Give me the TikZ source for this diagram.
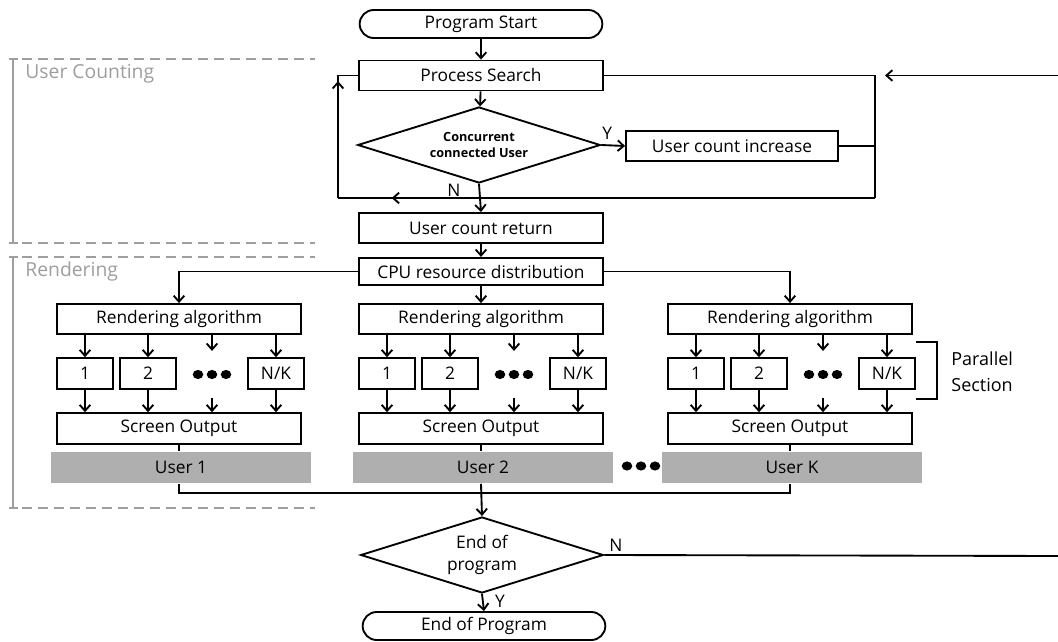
\documentclass[tikz,border=0pt]{standalone}
\usepackage{fontspec}
\setmainfont{Open Sans}
\usetikzlibrary{arrows.meta,shapes.geometric,shapes.misc,decorations.markings}
\definecolor{usergray}{RGB}{175,175,175}
\definecolor{zonegray}{RGB}{158,158,158}

\begin{document}
\begin{tikzpicture}[x=0.75pt,y=-0.75pt,line width=1.4pt,
    font=\fontsize{13pt}{15pt}\selectfont,
    >={Straight Barb[length=4.5pt,width=8pt]},
    box/.style={draw,rectangle,inner sep=0pt,minimum height=22.5pt},
    wide/.style={box,minimum width=183pt},
    num/.style={box,minimum width=42pt,minimum height=23pt},
    term/.style={draw,rounded rectangle,inner sep=0pt,minimum width=182pt,minimum height=21pt},
    decide/.style={draw,diamond,inner sep=0pt,shape aspect=3.2,align=center,
        minimum width=182pt,minimum height=57pt},
    user/.style={fill=usergray,inner sep=0pt,minimum width=195pt,minimum height=23pt},
    zone/.style={draw=zonegray,line width=1.5pt,dash pattern=on 7.5pt off 4.5pt},
    zonebar/.style={draw=zonegray,line width=2.2pt},
    zonelabel/.style={text=zonegray,anchor=west,font=\fontsize{14.5pt}{17pt}\selectfont},
    midarrow/.style={postaction=decorate,
        decoration={markings,mark=at position #1 with {\arrow{>}}}}
]
\useasboundingbox (0,0) rectangle (1058,642);

% zones on the left
\draw[zone] (22,59) -- (315,59) (22,243) -- (315,243);
\draw[zone] (22,257) -- (315,257) (22,508) -- (315,508);
\draw[zonebar] (9,59) -- (18,59) (13,59) -- (13,243) (9,243) -- (18,243);
\draw[zonebar] (9,257) -- (18,257) (13,257) -- (13,508) (9,508) -- (18,508);
\node[zonelabel] (zcount) at (20,74) {User Counting};
\node[zonelabel] (zrender) at (20,271) {Rendering};

% user counting
\node[term] (start) at (481,24) {Program Start};
\node[wide] (search) at (481,75.5) {Process Search};
\node[decide,font=\fontsize{9.5pt}{12pt}\selectfont\bfseries] (conc) at (479,145)
    {Concurrent\\connected User};
\node[box,minimum width=159pt] (incr) at (732,146) {User count increase};
\node[wide] (ret) at (481,228) {User count return};
\node[wide,minimum height=20.5pt] (cpu) at (481,271.5) {CPU resource distribution};

\coordinate (rt) at (875,75.5);
\coordinate (rb) at (875,198);
\coordinate (lb) at (338,198);
\coordinate (lt) at (338,75.5);
\coordinate (fromr) at (1058,75.5);
\coordinate (backin) at (885,75.5);

\draw[->] (start) -- (search);
\draw[->] (search) -- (conc);
\draw[->] (conc.east) -- (incr.west) node[pos=0.25,above] (yes1) {Y};
\draw[->] (conc.south) -- (ret.north);
\node (no1) at (454,190) {N};
\draw (search.east) -- (rt) -- (rb);
\draw (incr.east) -- (incr.east -| rt);
\draw[midarrow=0.9] (rb) -- (lb);
\draw[midarrow=0.82] (lb) -- (lt) -- (search.west);
\draw[->] (fromr) -- (backin);
\draw[->] (ret) -- (cpu);

% rendering columns
\foreach \c/\n/\u in {179/1/1,481/2/2,790/3/K} {
    \node[wide] (ra\n) at (\c,319) {Rendering algorithm};
    \node[num] (pa\n) at (\c-94,373.5) {1};
    \node[num] (pb\n) at (\c-31,373.5) {2};
    \node[inner sep=0pt,minimum width=30pt,minimum height=34pt] (pd\n) at (\c+33,374.5) {};
    \node[num] (pk\n) at (\c+97,373.5) {N/K};
    \node[wide,minimum height=23pt] (so\n) at (\c,428.5) {Screen Output};
    \node[user] (us\n) at (\c+2,467.5) {User \u};
    \foreach \k in {-1,0,1}
        \fill (pd\n) ++(\k*14,0) ellipse (4pt and 3.4pt);
    \foreach \p in {pa,pb,pd,pk} {
        \draw[->] (ra\n.south -| \p\n) -- (\p\n.north);
        \draw[->] (\p\n.south) -- (so\n.north -| \p\n);
    }
    \draw (so\n.south) -- (so\n.south |- us\n.north);
}
\draw[->] (cpu.west) -| (ra1.north);
\draw[->] (cpu.south) -- (ra2.north);
\draw[->] (cpu.east) -| (ra3.north);

\node[inner sep=0pt,minimum width=30pt] (udots) at (641,466) {};
\foreach \k in {-1,0,1}
    \fill (udots) ++(\k*14,0) ellipse (4pt and 3.4pt);

\node[align=left,anchor=west,font=\fontsize{13.5pt}{19.5pt}\selectfont] (par) at (946,372)
    {Parallel\\Section};
\draw[line width=1.2pt] (pk3.east |- 0,342) -- (937,342) -- (937,399) -- (pk3.east |- 0,399);

% end of program
\node[decide,font=\fontsize{13pt}{17pt}\selectfont] (endq) at (482,555) {End of\\program};
\node[term] (stop) at (484,626) {End of Program};
\coordinate (fromn) at (1058,556);

\draw (so1.south |- us1.south) -- ++(0,9) -| (so3.south |- us3.south);
\draw[->] (us2.south -| so2.south) -- (endq.north);
\draw (endq.east) -- (fromn);
\node (no2) at (616,545) {N};
\draw[->] (endq.south) -- (stop.north);
\node (yes2) at (500,601) {Y};
\end{tikzpicture}
\end{document}
